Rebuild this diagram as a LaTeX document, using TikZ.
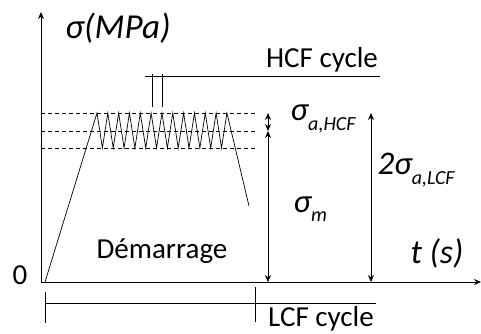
\documentclass[tikz,border=0pt]{standalone}
\usepackage{fontspec}
\setmainfont{Carlito}
\usetikzlibrary{arrows.meta}
\newcommand{\bigtext}{\fontsize{29}{31}\selectfont}
\newcommand{\sigsub}[1]{{\fontsize{33}{35}\selectfont\itshape σ\raisebox{-0.28em}{\fontsize{20}{22}\selectfont #1}}}
\begin{document}
\begin{tikzpicture}[>={Stealth[length=7pt,width=6pt]},x=1pt,y=-1pt,line width=0.7pt]
            \useasboundingbox (0,0) rectangle (481,333);
            \coordinate (O) at (41,282);
            \draw[->] (O) -- (41,12) coordinate (ytop);
            \draw[->] (O) -- (481,282) coordinate (xend);
            % stress levels
            \foreach \lvl/\yy in {top/113,mid/131,bot/148}
                \draw[dash pattern=on 4pt off 3pt] (41,\yy) coordinate (\lvl L) -- (258,\yy) coordinate (\lvl R);
            % loading path
            \draw (45,282) coordinate (start) -- (97,113)
                \foreach \i in {0,...,11} {-- ({102.4+10.83*\i},148) -- ({107.8+10.83*\i},113)}
                -- (249,206) coordinate (stop);
            % HCF bracket
            \draw (152,107) -- (152,74);
            \draw (162,107) -- (162,74);
            \draw (145,76) coordinate (hcfL) -- (380,76) coordinate (hcfR);
            \node[anchor=base] (hcf) at (322,67) {\bigtext HCF cycle};
            % amplitudes
            \draw[<->] (268,113) coordinate (aT) -- (268,131) coordinate (aM);
            \draw[<->] (aM) -- (268,282) coordinate (aB);
            \draw[<->] (371,113) coordinate (lT) -- (371,282) coordinate (lB);
            \node[anchor=west] (sahcf) at (287,119) {\sigsub{a,HCF}};
            \node[anchor=west] (sm) at (290,209) {\sigsub{m}};
            \node[anchor=west] (salcf) at (374,170) {{\fontsize{33}{35}\selectfont\itshape 2}\sigsub{a,LCF}};
            % LCF bracket
            \draw (45,292) -- (45,323);
            \draw (255,287) -- (255,322);
            \draw (45,303) coordinate (lcfL) -- (376,303) coordinate (lcfR);
            \node[anchor=base] (lcf) at (321,326) {\bigtext LCF cycle};
            % labels
            \node (ylab) at (118,28) {\fontsize{35}{37}\selectfont\itshape σ(MPa)};
            \node (xlab) at (437,253) {\fontsize{34}{36}\selectfont\itshape t (s)};
            \node (zero) at (20,275) {\bigtext 0};
            \node[anchor=base] (dem) at (162,258) {\bigtext Démarrage};
        \end{tikzpicture}
\end{document}
